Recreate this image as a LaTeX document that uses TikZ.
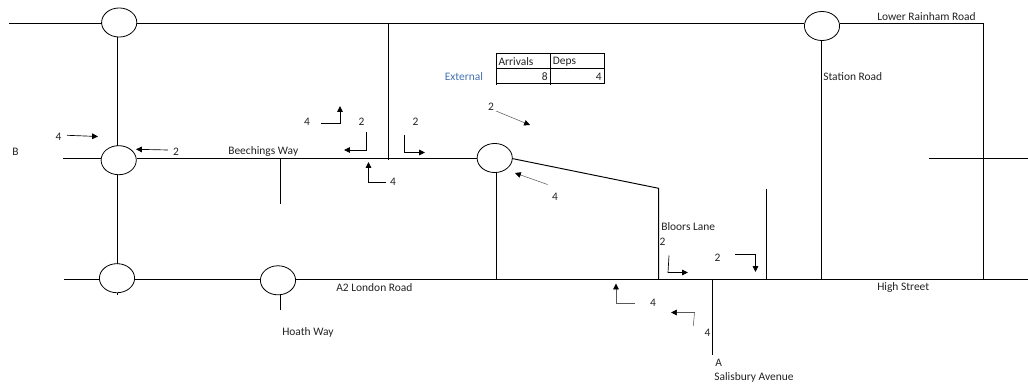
\documentclass[tikz,border=0pt]{standalone}
\usepackage{fontspec}
\setmainfont{Carlito}
\usetikzlibrary{shapes.geometric,arrows.meta}
\definecolor{extblue}{RGB}{68,114,176}
\definecolor{txt}{RGB}{35,35,35}
\tikzset{
  road/.style={draw=black,line width=0.72pt},
  rabout/.style={ellipse,draw=black,line width=0.6pt,fill=white,minimum width=26.4pt,minimum height=21.8pt,inner sep=0pt},
  flow/.style={draw=black,line width=0.5pt,-{Triangle[length=4.4pt,width=4.2pt]}},
  flowthin/.style={draw=black!65,line width=0.4pt,-{Triangle[length=4.4pt,width=4.2pt,color=black,fill=black]}},
  lab/.style={font=\fontsize{8.6}{10}\selectfont,text=txt,inner sep=0pt},
  lableft/.style={lab,anchor=west},
  grid/.style={draw=black,line width=0.75pt}
}
\begin{document}
\begin{tikzpicture}[x=0.75pt,y=-0.75pt]
\useasboundingbox (0,0) rectangle (1028,385);
% roundabouts
\node[rabout] (tl) at (119.2,22.5) {};
\node[rabout] (ml) at (118.7,160.2) {};
\node[rabout] (bl) at (117,278.2) {};
\node[rabout] (hw) at (278,280.3) {};
\node[rabout] (mr) at (494.7,158) {};
\node[rabout] (tr) at (822,26) {};
% road junctions and ends
\coordinate (topW) at (9,23.5);
\coordinate (tlE) at (137,23.5);
\coordinate (tlW) at (101.5,23.5);
\coordinate (topJ) at (388.5,23.5);
\coordinate (trW) at (804,23.5);
\coordinate (trE) at (840,23.5);
\coordinate (topNE) at (983.3,23.5);
\coordinate (seJ) at (983.3,279.3);
\coordinate (tlS) at (117.5,37);
\coordinate (mlN) at (117.5,146);
\coordinate (mlS) at (117.5,175);
\coordinate (blN) at (117.5,264);
\coordinate (blS1) at (117.5,293);
\coordinate (blS2) at (117.5,294.5);
\coordinate (bW) at (63,158.5);
\coordinate (mlW) at (101,158.5);
\coordinate (mlE) at (136.5,158.5);
\coordinate (mrW) at (477.2,158.5);
\coordinate (midJ) at (388.5,160);
\coordinate (bwJ) at (280.5,158.5);
\coordinate (bwS) at (280.5,204);
\coordinate (lW) at (64,279.3);
\coordinate (blW) at (99.5,279.3);
\coordinate (blE) at (134.5,279.3);
\coordinate (hwW) at (260.3,279.3);
\coordinate (hwE) at (295.7,279.3);
\coordinate (lE) at (1028,279.3);
\coordinate (hwS1) at (280.5,295);
\coordinate (hwS2) at (280.5,310);
\coordinate (mrS) at (496.5,172.5);
\coordinate (mrSJ) at (496.5,279.3);
\coordinate (mrE) at (512,158.5);
\coordinate (blN2) at (658.6,188.3);
\coordinate (blJ) at (658.6,279.3);
\coordinate (rdN) at (766.2,189);
\coordinate (rdJ) at (766.2,279.3);
\coordinate (saJ) at (712.3,279.3);
\coordinate (saS) at (712.3,355);
\coordinate (trS) at (821.5,40.7);
\coordinate (trJ) at (821.5,279.3);
\coordinate (crW) at (929,158.5);
\coordinate (crE) at (1028,158.5);
% roads
\draw[road] (topW) -- (tlW);
\draw[road] (tlE) -- (trW);
\draw[road] (trE) -- (topNE) -- (seJ);
\draw[road] (topJ) -- (midJ);
\draw[road] (tlS) -- (mlN);
\draw[road] (mlS) -- (blN);
\draw[road] (blS1) -- (blS2);
\draw[road] (bW) -- (mlW);
\draw[road] (mlE) -- (mrW);
\draw[road] (bwJ) -- (bwS);
\draw[road] (lW) -- (blW);
\draw[road] (blE) -- (hwW);
\draw[road] (hwE) -- (lE);
\draw[road] (hwS1) -- (hwS2);
\draw[road] (mrS) -- (mrSJ);
\draw[road] (mrE) -- (blN2) -- (blJ);
\draw[road] (rdN) -- (rdJ);
\draw[road] (saJ) -- (saS);
\draw[road] (trS) -- (trJ);
\draw[road] (crW) -- (crE);
% table
\coordinate (t00) at (496.7,53.4);
\coordinate (t10) at (550.4,53.4);
\coordinate (t20) at (604.8,53.4);
\coordinate (t01) at (496.7,68.4);
\coordinate (t21) at (604.8,68.4);
\coordinate (t02) at (496.7,83.4);
\coordinate (t12) at (550.4,83.4);
\coordinate (t22) at (604.8,83.4);
\coordinate (t03) at (496.7,84.7);
\coordinate (t13) at (550.4,84.7);
\draw[grid] (t00) -- (t20) (t01) -- (t21) (t02) -- (t22);
\draw[grid] (t00) -- (t03) (t10) -- (t13) (t20) -- (t22);
\node[lableft] (tArr) at (498.3,61.5) {Arrivals};
\node[lableft] (tDep) at (552.5,61.5) {Deps};
\node[lab,anchor=east] (tEight) at (548,76.5) {8};
\node[lab,anchor=east] (tFour) at (602,76.5) {4};
\node[lableft,text=extblue] (ext) at (444.5,76.5) {External};
% road names
\node[lableft] (nB) at (12,151.5) {B};
\node[lableft] (nBW) at (228,151.5) {Beechings Way};
\node[lableft] (nLRR) at (877,16.5) {Lower Rainham Road};
\node[lableft] (nSR) at (823,76.5) {Station Road};
\node[lableft] (nBL) at (661,226.5) {Bloors Lane};
\node[lableft] (nA2) at (336,287.5) {A2 London Road};
\node[lableft] (nHS) at (877,287.5) {High Street};
\node[lableft] (nHW) at (282,332.5) {Hoath Way};
\node[lableft] (nA) at (715,362.5) {A};
\node[lableft] (nSA) at (714,377.5) {Salisbury Avenue};
% flow numbers
\node[lab] (f1) at (58.5,136.5) {4};
\node[lab] (f2) at (176,151.5) {2};
\node[lab] (f3) at (307,121.5) {4};
\node[lab] (f4) at (361.5,121.5) {2};
\node[lab] (f5) at (415.5,121.5) {2};
\node[lab] (f6) at (393,181.5) {4};
\node[lab] (f7) at (491,106.5) {2};
\node[lab] (f8) at (555,196.5) {4};
\node[lab] (f9) at (662.5,241.5) {2};
\node[lab] (f10) at (717.5,257.5) {2};
\node[lab] (f11) at (653,303) {4};
\node[lab] (f12) at (707.5,332.5) {4};
% flow arrows
\coordinate (a1s) at (67,135.3);
\coordinate (a1e) at (98,136.5);
\draw[flow] (a1s) -- (a1e);
\coordinate (a2s) at (168,150);
\coordinate (a2e) at (136,149.3);
\draw[flow] (a2s) -- (a2e);
\coordinate (a3s) at (321,123.5);
\coordinate (a3m) at (340,123.5);
\coordinate (a3e) at (340,106);
\draw[flow] (a3s) -- (a3m) -- (a3e);
\coordinate (a4s) at (366.5,132);
\coordinate (a4m) at (366.5,150);
\coordinate (a4e) at (344,150);
\draw[flow] (a4s) -- (a4m) -- (a4e);
\coordinate (a5s) at (404.5,135);
\coordinate (a5m) at (404.5,152.5);
\coordinate (a5e) at (425,152.5);
\draw[flow] (a5s) -- (a5m) -- (a5e);
\coordinate (a6s) at (386,182);
\coordinate (a6m) at (368.5,182);
\coordinate (a6e) at (368.5,162);
\draw[flow] (a6s) -- (a6m) -- (a6e);
\coordinate (a7s) at (496,111);
\coordinate (a7e) at (530,125);
\draw[flowthin] (a7s) -- (a7e);
\coordinate (a8s) at (547.5,184.5);
\coordinate (a8e) at (515,173);
\draw[flowthin] (a8s) -- (a8e);
\coordinate (a9s) at (669,255.5);
\coordinate (a9m) at (668,272.5);
\coordinate (a9e) at (688,272.5);
\draw[flow] (a9s) -- (a9m) -- (a9e);
\coordinate (a10s) at (735,254);
\coordinate (a10m) at (755.5,254);
\coordinate (a10e) at (755.5,272);
\draw[flow] (a10s) -- (a10m) -- (a10e);
\coordinate (a11s) at (634.5,303.5);
\coordinate (a11m) at (616,303.5);
\coordinate (a11e) at (616,283.5);
\draw[flowthin] (a11s) -- (a11m) -- (a11e);
\coordinate (a12s) at (693.3,326);
\coordinate (a12m) at (694.5,312.5);
\coordinate (a12e) at (671,312.5);
\draw[flowthin] (a12s) -- (a12m) -- (a12e);
\end{tikzpicture}
\end{document}
